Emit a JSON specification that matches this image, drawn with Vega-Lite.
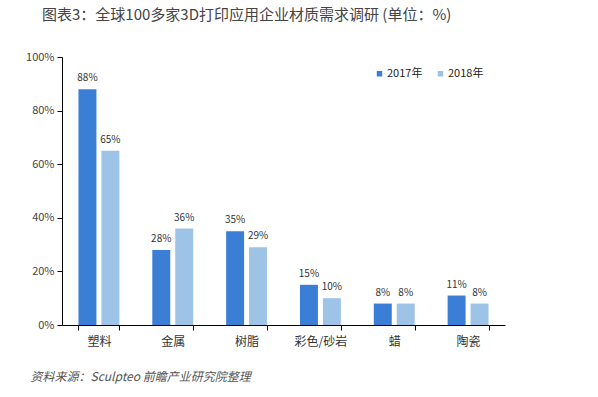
{
  "$schema": "https://vega.github.io/schema/vega-lite/v6.json",
  "width": 443,
  "height": 268,
  "autosize": {"type": "none"},
  "padding": {"left": 62, "top": 57, "right": 93, "bottom": 72},
  "background": "white",
  "config": {
    "view": {"stroke": null},
    "font": "Noto Sans CJK SC"
  },
  "title": {
    "text": "图表3：全球100多家3D打印应用企业材质需求调研 (单位：%)",
    "anchor": "start",
    "frame": "group",
    "dx": -20,
    "offset": 28,
    "fontSize": 15,
    "fontWeight": "normal",
    "color": "#444444"
  },
  "data": {
    "values": [
      {"material": "塑料", "year": "2017年", "value": 0.88},
      {"material": "塑料", "year": "2018年", "value": 0.65},
      {"material": "金属", "year": "2017年", "value": 0.28},
      {"material": "金属", "year": "2018年", "value": 0.36},
      {"material": "树脂", "year": "2017年", "value": 0.35},
      {"material": "树脂", "year": "2018年", "value": 0.29},
      {"material": "彩色/砂岩", "year": "2017年", "value": 0.15},
      {"material": "彩色/砂岩", "year": "2018年", "value": 0.10},
      {"material": "蜡", "year": "2017年", "value": 0.08},
      {"material": "蜡", "year": "2018年", "value": 0.08},
      {"material": "陶瓷", "year": "2017年", "value": 0.11},
      {"material": "陶瓷", "year": "2018年", "value": 0.08}
    ]
  },
  "encoding": {
    "x": {
      "field": "material",
      "type": "nominal",
      "sort": null,
      "scale": {"paddingInner": 0.446, "paddingOuter": 0.223},
      "axis": {
        "title": "资料来源：Sculpteo 前瞻产业研究院整理",
        "titleX": -32,
        "titleY": 55,
        "titleAlign": "left",
        "titleAnchor": null,
        "titleBaseline": "alphabetic",
        "titleFontStyle": "italic",
        "titleFontWeight": "normal",
        "titleFontSize": 12,
        "titleColor": "#555555",
        "labelAngle": 0,
        "labelFontSize": 12,
        "labelColor": "#333333",
        "labelPadding": 6,
        "tickBand": "extent",
        "tickSize": 5,
        "tickColor": "#000000",
        "domainColor": "#000000"
      }
    },
    "xOffset": {
      "field": "year",
      "type": "nominal",
      "scale": {"paddingInner": 0.217, "paddingOuter": 0}
    },
    "y": {
      "field": "value",
      "type": "quantitative",
      "scale": {"domain": [0, 1]},
      "axis": {
        "title": null,
        "values": [0, 0.2, 0.4, 0.6, 0.8, 1],
        "format": ".0%",
        "grid": false,
        "tickSize": 5,
        "tickColor": "#000000",
        "domainColor": "#000000",
        "labelFontSize": 11,
        "labelColor": "#444444",
        "labelPadding": 3
      }
    }
  },
  "layer": [
    {
      "mark": {"type": "bar"},
      "encoding": {
        "color": {
          "field": "year",
          "type": "nominal",
          "scale": {"range": ["#3A7FD5", "#9DC3E6"]},
          "legend": {
            "title": null,
            "orient": "none",
            "legendX": 312,
            "legendY": 11,
            "direction": "horizontal",
            "symbolType": "square",
            "symbolSize": 30,
            "labelFontSize": 11,
            "labelColor": "#222222",
            "columnPadding": 12,
            "labelOffset": 2
          }
        }
      }
    },
    {
      "mark": {"type": "text", "dy": -11, "fontSize": 10, "color": "#333333"},
      "encoding": {
        "text": {"field": "value", "type": "quantitative", "format": ".0%"},
        "detail": {"field": "year"}
      }
    }
  ]
}
